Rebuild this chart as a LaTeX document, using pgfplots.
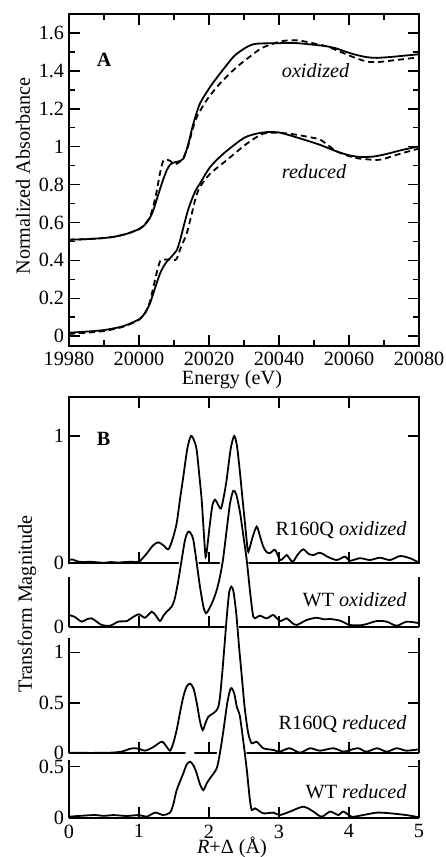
\documentclass[border=0pt]{standalone}
\usepackage{fontspec}
\setmainfont{Liberation Serif}
\usepackage{pgfplots}
\pgfplotsset{compat=1.18}
\usepackage{pgfplotstable}

\pgfplotstableread{
E y
19980 0.509
19985 0.512
19990 0.518
19993 0.525
19995 0.533
19997 0.543
20000 0.565
20001.5 0.585
20003 0.62
20004 0.66
20005 0.717
20006.5 0.805
20007.9 0.875
20008.9 0.905
20010 0.917
20011 0.921
20012.7 0.937
20014.1 1.016
20015.5 1.12
20017.4 1.227
20020.3 1.315
20023.1 1.385
20026.9 1.473
20029 1.505
20030.8 1.526
20032.5 1.54
20034.6 1.545
20039 1.546
20044 1.548
20049 1.540
20053.6 1.53
20056.5 1.518
20059.3 1.50
20062 1.485
20065 1.473
20068 1.469
20072.7 1.475
20076 1.481
20080 1.488
}\oxsolid

\pgfplotstableread{
E y
19980 0.509
19985 0.512
19990 0.518
19993 0.525
19995 0.533
19997 0.543
20000 0.565
20001.5 0.587
20003 0.625
20004 0.68
20005 0.76
20006 0.86
20006.9 0.925
20007.8 0.932
20008.9 0.925
20010 0.908
20010.8 0.91
20012 0.925
20012.7 0.942
20014 1.0
20015.3 1.09
20016.5 1.156
20019.3 1.245
20023.1 1.333
20027.9 1.42
20032.7 1.49
20035 1.52
20037.4 1.538
20040.3 1.555
20043 1.562
20046 1.56
20050 1.545
20053.6 1.53
20057 1.505
20061.2 1.473
20064 1.455
20066 1.447
20069 1.448
20072.7 1.456
20076 1.463
20080 1.472
}\oxdash

\pgfplotstableread{
E y
19980 0.018
19985 0.024
19990 0.032
19994.6 0.048
19997 0.063
20000.3 0.092
20001.8 0.125
20003.1 0.171
20004 0.22
20005 0.277
20006 0.33
20006.9 0.364
20008 0.395
20008.9 0.412
20010 0.435
20010.8 0.453
20011.8 0.51
20012.7 0.576
20014 0.665
20015 0.717
20016.2 0.77
20017.4 0.805
20020.3 0.892
20024.1 0.963
20028.9 1.033
20031 1.055
20033.6 1.069
20036.5 1.077
20040 1.075
20044 1.055
20048.9 1.027
20051.7 1.01
20056.5 0.975
20060 0.955
20063.1 0.946
20067 0.948
20070.8 0.962
20075 0.982
20080 1.002
}\redsolid

\pgfplotstableread{
E y
19980 0.012
19985 0.018
19990 0.027
19994.6 0.045
19997 0.06
20000.3 0.09
20002 0.13
20003.1 0.18
20004 0.25
20005 0.33
20006 0.395
20007 0.403
20008.9 0.405
20010 0.40
20010.8 0.41
20012 0.47
20013.6 0.54
20015 0.64
20016.2 0.73
20017.4 0.787
20020.3 0.857
20025 0.928
20030.8 1.016
20035.5 1.069
20040 1.073
20044 1.066
20048.9 1.05
20051.7 1.038
20054 1.008
20056.5 0.975
20060 0.95
20063.1 0.937
20067.9 0.93
20070 0.936
20072.7 0.952
20076 0.97
20080 0.99
}\reddash

\pgfplotstableread{
R y
0.00 0.026
0.05 0.03
0.12 0.015
0.2 0.01
0.3 0.012
0.4 0.008
0.5 0.004
0.6 0.01
0.7 0.006
0.8 0.01
0.9 0.012
1.0 0.013
1.1 0.07
1.2 0.14
1.276 0.165
1.35 0.14
1.419 0.11
1.48 0.19
1.538 0.315
1.585 0.5
1.633 0.68
1.69 0.9
1.743 1.0
1.79 0.96
1.824 0.89
1.86 0.7
1.895 0.5
1.925 0.25
1.952 0.05
1.98 0.15
2.014 0.315
2.05 0.46
2.086 0.50
2.13 0.46
2.171 0.43
2.21 0.52
2.252 0.656
2.31 0.9
2.36 1.0
2.40 0.92
2.443 0.71
2.48 0.5
2.514 0.315
2.54 0.17
2.562 0.09
2.62 0.2
2.681 0.288
2.73 0.21
2.776 0.13
2.82 0.09
2.871 0.08
2.943 0.105
3.014 0.026
3.06 0.04
3.11 0.065
3.16 0.03
3.20 0.013
3.27 0.07
3.347 0.11
3.42 0.075
3.49 0.065
3.586 0.083
3.7 0.05
3.824 0.026
3.943 0.052
4.014 0.02
4.157 0.04
4.3 0.026
4.44 0.044
4.586 0.026
4.729 0.057
4.871 0.04
5.0 0.005
}\rox

\pgfplotstableread{
R y
0.0 0.094
0.08 0.08
0.18 0.042
0.25 0.06
0.324 0.068
0.4 0.04
0.467 0.016
0.586 0.01
0.705 0.042
0.824 0.047
0.92 0.08
1.0 0.10
1.086 0.073
1.181 0.12
1.24 0.09
1.30 0.047
1.35 0.09
1.395 0.12
1.467 0.16
1.51 0.22
1.56 0.36
1.61 0.53
1.66 0.69
1.705 0.75
1.74 0.735
1.776 0.685
1.82 0.52
1.871 0.317
1.92 0.16
1.957 0.108
2.0 0.14
2.062 0.213
2.11 0.29
2.157 0.396
2.2 0.53
2.252 0.76
2.30 0.97
2.347 1.07
2.39 1.04
2.443 0.9
2.49 0.72
2.538 0.53
2.59 0.26
2.633 0.081
2.68 0.075
2.729 0.089
2.824 0.068
2.919 0.094
3.014 0.047
3.11 0.068
3.18 0.035
3.252 0.016
3.395 0.055
3.538 0.073
3.64 0.06
3.729 0.063
3.871 0.05
4.014 0.016
4.2 0.016
4.395 0.047
4.538 0.042
4.681 0.01
4.824 0.042
5.0 0.03
}\wox

\pgfplotstableread{
R y
0.0 0.006
0.3 0.004
0.586 0.006
0.75 0.016
0.85 0.04
0.919 0.05
1.0 0.045
1.086 0.026
1.2 0.06
1.324 0.115
1.39 0.07
1.443 0.026
1.49 0.1
1.538 0.23
1.585 0.4
1.633 0.56
1.68 0.66
1.729 0.69
1.78 0.64
1.83 0.48
1.87 0.32
1.91 0.23
1.95 0.3
1.99 0.362
2.062 0.396
2.10 0.42
2.133 0.46
2.157 0.56
2.19 0.8
2.225 1.1
2.26 1.4
2.29 1.6
2.32 1.65
2.35 1.6
2.39 1.38
2.43 1.05
2.47 0.75
2.51 0.45
2.56 0.2
2.61 0.1
2.68 0.115
2.776 0.05
2.92 0.033
3.01 0.016
3.15 0.05
3.3 0.006
3.443 0.05
3.586 0.026
3.776 0.05
3.92 0.016
4.014 0.033
4.133 0.05
4.25 0.016
4.4 0.05
4.54 0.016
4.68 0.05
4.82 0.026
5.0 0.04
}\rred

\pgfplotstableread{
R y
0.0 0.01
0.347 0.026
0.5 0.018
0.633 0.026
0.824 0.017
1.0 0.026
1.11 0.01
1.23 0.05
1.347 0.026
1.443 0.05
1.49 0.13
1.538 0.27
1.633 0.435
1.68 0.52
1.729 0.55
1.78 0.51
1.824 0.435
1.87 0.33
1.919 0.27
1.97 0.34
2.014 0.386
2.11 0.484
2.16 0.65
2.205 0.85
2.26 1.12
2.30 1.25
2.324 1.27
2.36 1.22
2.40 1.08
2.44 1.0
2.49 0.75
2.54 0.47
2.58 0.2
2.61 0.075
2.657 0.092
2.776 0.043
2.92 0.05
3.01 0.026
3.157 0.06
3.26 0.09
3.347 0.108
3.42 0.09
3.49 0.06
3.61 0.01
3.73 0.06
3.85 0.026
3.92 0.06
4.04 0.01
4.2 0.026
4.4 0.05
4.59 0.043
4.82 0.026
5.0 0.004
}\wred

\pgfplotsset{
  common/.style={scale only axis, width=350pt, anchor=south west,
    tick align=inside, major tick length=11pt, minor tick length=6pt,
    axis line style={line width=1.8pt, black},
    every tick/.append style={line width=1.4pt, black},
    /pgf/number format/assume math mode=true,
    yticklabel style={xshift=2pt}},
  bpanel/.style={common, xmin=0, xmax=5, ymin=0, xtick={1,2,3,4},
    clip=false, axis on top},
  lower/.style={axis x line*=bottom, axis y line*=box, tick align=inside},
  curve/.style={scale only axis, width=350pt, anchor=south west,
    xmin=0, xmax=5, ymin=0, hide axis, clip=false},
  ln/.style={black, line width=1.8pt, smooth, tension=0.45, mark=none},
}

\begin{document}
\fontsize{20.2}{24}\selectfont
\begin{tikzpicture}[x=1pt,y=1pt]
\useasboundingbox (0,0) rectangle (445,-857);

% Panel A
\begin{axis}[common, at={(69pt,-345.6pt)}, height=331.5pt,
  xmin=19980, xmax=20080, ymin=-0.05, ymax=1.7,
  xtick={19980,20000,20020,20040,20060,20080}, minor x tick num=1,
  ytick={0,0.2,0.4,0.6,0.8,1,1.2,1.4,1.6}, minor y tick num=1,
  scaled x ticks=false,
  xticklabel style={/pgf/number format/.cd, fixed, 1000 sep={}}]
\addplot[black, line width=1.8pt, smooth, tension=0.45] table[x=E,y=y] {\oxsolid};
\addplot[black, line width=1.8pt, smooth, tension=0.45, dash pattern=on 6pt off 4pt] table[x=E,y=y] {\oxdash};
\addplot[black, line width=1.8pt, smooth, tension=0.45] table[x=E,y=y] {\redsolid};
\addplot[black, line width=1.8pt, smooth, tension=0.45, dash pattern=on 6pt off 4pt] table[x=E,y=y] {\reddash};
\end{axis}

% Panel B, pass 1: frames and white masks
\begin{axis}[bpanel, at={(69pt,-563.3pt)}, height=166.3pt, ymax=1.306,
  ytick={0,1}, xticklabels={}]
\addplot[draw=none] coordinates {(0,0)};
\end{axis}
\begin{axis}[bpanel, lower, at={(69pt,-627pt)}, height=50pt, ymax=0.3928,
  ytick={0}, xticklabels={}]
\addplot[draw=none, fill=white] table[x index=0, y expr=\thisrowno{1}+0.11] {\wox} \closedcycle;
\end{axis}
\begin{axis}[bpanel, lower, at={(69pt,-753.3pt)}, height=115.3pt, ymax=1.1416,
  ytick={0,0.5,1}, xticklabels={}]
\addplot[draw=none, fill=white] table[x index=0, y expr=\thisrowno{1}+0.17] {\rred} \closedcycle;
\end{axis}
\begin{axis}[bpanel, lower, at={(69pt,-817.7pt)}, height=57.7pt, ymax=0.5657,
  ytick={0,0.5}, xtick={0,1,2,3,4,5}]
\addplot[draw=none, fill=white] table[x index=0, y expr=\thisrowno{1}+0.14] {\wred} \closedcycle;
\end{axis}

% Panel B, pass 2: curves
\begin{axis}[curve, at={(69pt,-563.3pt)}, height=166.3pt, ymax=1.306]
\addplot[ln] table[x=R,y=y] {\rox};
\end{axis}
\begin{axis}[curve, at={(69pt,-627pt)}, height=50pt, ymax=0.3928]
\addplot[ln] table[x=R,y=y] {\wox};
\end{axis}
\begin{axis}[curve, at={(69pt,-753.3pt)}, height=115.3pt, ymax=1.1416]
\addplot[ln] table[x=R,y=y] {\rred};
\end{axis}
\begin{axis}[curve, at={(69pt,-817.7pt)}, height=57.7pt, ymax=0.5657]
\addplot[ln] table[x=R,y=y] {\wred};
\end{axis}

% Texts
\node[anchor=base west, inner sep=0pt, font=\bfseries] at (96.7,-66.7) {A};
\node[anchor=base west, inner sep=0pt, font=\bfseries] at (96.7,-445) {B};
\node[anchor=base west, inner sep=0pt, font=\itshape] at (281.7,-77.3) {oxidized};
\node[anchor=base west, inner sep=0pt, font=\itshape] at (281.7,-178.3) {reduced};
\node[anchor=base east, inner sep=0pt] at (406.7,-535) {R160Q \textit{oxidized}};
\node[anchor=base east, inner sep=0pt] at (406.7,-606.7) {WT \textit{oxidized}};
\node[anchor=base east, inner sep=0pt] at (406.7,-729.3) {R160Q \textit{reduced}};
\node[anchor=base east, inner sep=0pt] at (406.7,-798.3) {WT \textit{reduced}};
\node[rotate=90] at (23,-176) {Normalized Absorbance};
\node[rotate=90] at (27,-604) {Transform Magnitude};
\node at (232,-380) {Energy (eV)};
\node at (232,-847) {\textit{R}+Δ (Å)};
\end{tikzpicture}
\end{document}
